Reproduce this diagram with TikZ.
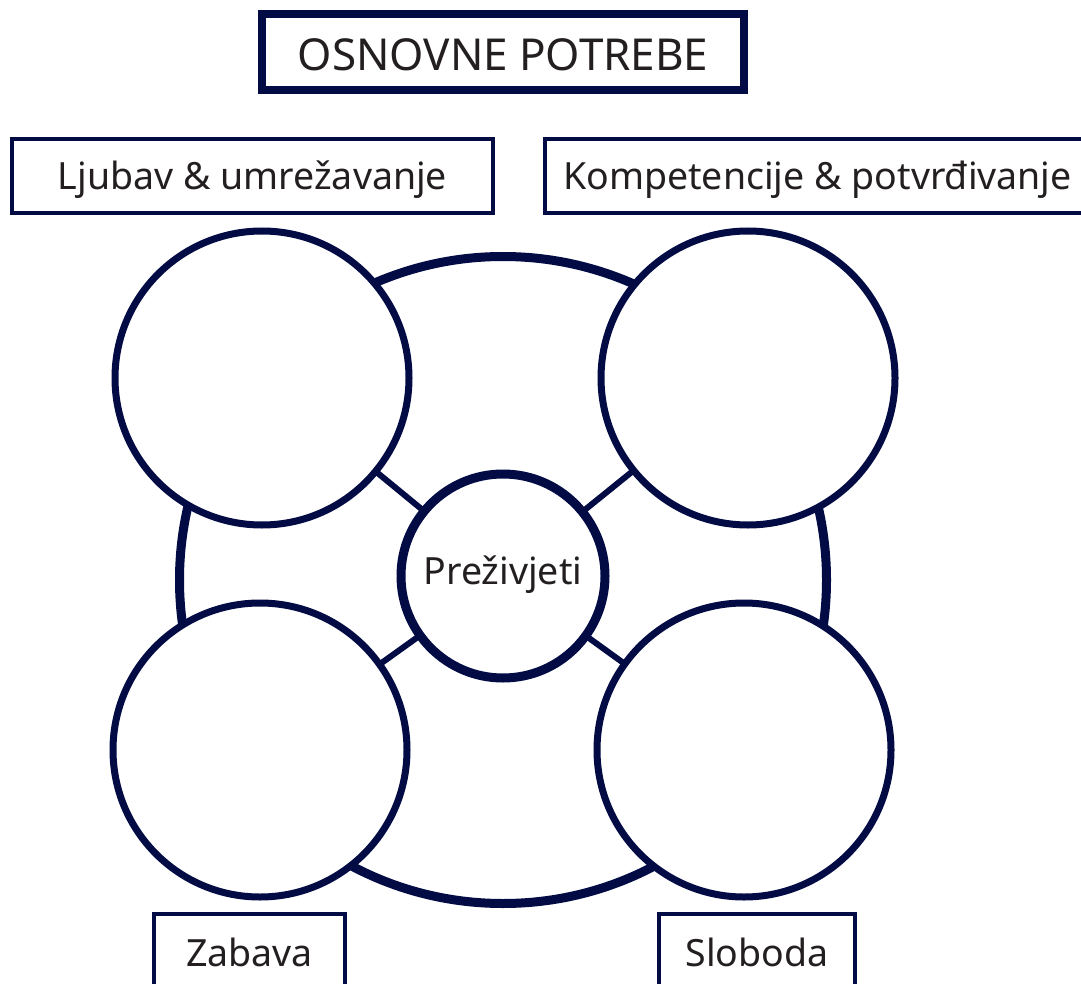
\documentclass[tikz,border=0pt]{standalone}
\usepackage{fontspec}
\setmainfont{Noto Sans}
\definecolor{navy}{RGB}{2,11,68}
\definecolor{ink}{RGB}{35,31,32}
\begin{document}
\begin{tikzpicture}[x=1pt,y=-1pt,
  bigc/.style={circle,draw=navy,fill=white,line width=7pt,minimum size=294pt,inner sep=0pt},
  midc/.style={circle,draw=navy,fill=white,line width=9pt,minimum size=204pt,inner sep=0pt,text=ink,font=\fontsize{37.5}{42}\selectfont,text height=16pt,text depth=0pt},
  ringc/.style={circle,draw=navy,line width=9pt,minimum size=647pt,inner sep=0pt},
  spoke/.style={draw=navy,line width=6pt},
  titlebox/.style={draw=navy,fill=white,line width=7.5pt,minimum width=482pt,minimum height=76pt,inner sep=0pt,text=ink,font=\fontsize{44}{50}\selectfont,text height=38pt,text depth=0pt},
  labbox/.style={draw=navy,fill=white,line width=4.5pt,inner sep=0pt,text=ink,font=\fontsize{37.5}{42}\selectfont,text depth=0pt}
]
\useasboundingbox (0,0) rectangle (1081,984);
\node[ringc] (ring) at (503,580) {};
\coordinate (tlc) at (262,378);
\coordinate (trc) at (748,378);
\coordinate (blc) at (260,750);
\coordinate (brc) at (744,750);
\coordinate (cc) at (503,576);
\draw[spoke] (cc) -- (tlc);
\draw[spoke] (cc) -- (trc);
\draw[spoke] (cc) -- (blc);
\draw[spoke] (cc) -- (brc);
\node[bigc] (tl) at (tlc) {};
\node[bigc] (tr) at (trc) {};
\node[bigc] (bl) at (blc) {};
\node[bigc] (br) at (brc) {};
\node[midc] (c) at (cc) {Preživjeti};
\node[titlebox] (title) at (503,52) {OSNOVNE POTREBE};
\node[labbox,minimum width=481pt,minimum height=74pt,text height=28pt] (ljubav) at (252.5,176) {Ljubav \& umrežavanje};
\node[labbox,minimum width=545pt,minimum height=74pt,text height=28pt] (komp) at (817.5,176) {Kompetencije \& potvrđivanje};
\node[labbox,minimum width=191pt,minimum height=82pt,text height=22pt] (zabava) at (249.5,955) {Zabava};
\node[labbox,minimum width=196pt,minimum height=82pt,text height=22pt] (sloboda) at (757,955) {Sloboda};
\end{tikzpicture}
\end{document}
